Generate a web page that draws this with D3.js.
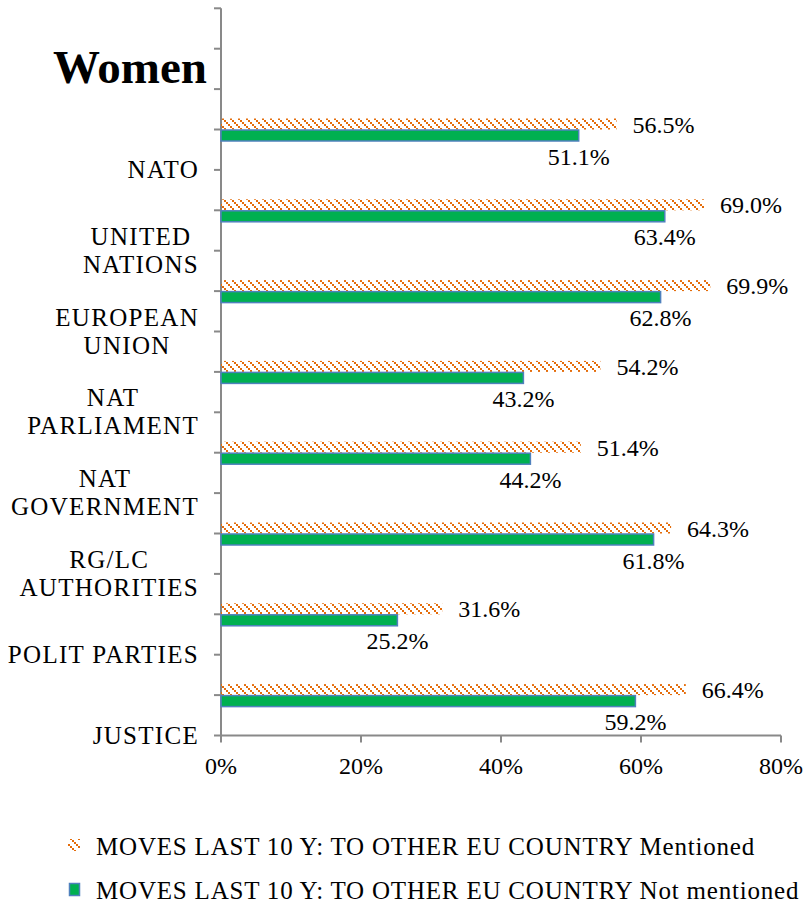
<!DOCTYPE html>
<html>
<head>
<meta charset="utf-8">
<script src="https://cdn.jsdelivr.net/npm/d3@7"></script>
<style>
    body { margin: 0; background: #fff; }
    text { font-family: "Liberation Serif", "DejaVu Serif", serif; fill: #000; }
</style>
</head>
<body>
<svg id="chart" width="807" height="912"></svg>
<script>
// categories, top to bottom
const categories = [
    ["NATO"],
    ["UNITED", "NATIONS"],
    ["EUROPEAN", "UNION"],
    ["NAT", "PARLIAMENT"],
    ["NAT", "GOVERNMENT"],
    ["RG/LC", "AUTHORITIES"],
    ["POLIT PARTIES"],
    ["JUSTICE"]
];
const mentioned = [56.5, 69.0, 69.9, 54.2, 51.4, 64.3, 31.6, 66.4];
const notMentioned = [51.1, 63.4, 62.8, 43.2, 44.2, 61.8, 25.2, 59.2];
const xTicks = [0, 20, 40, 60, 80];
const seriesNames = [
    "MOVES LAST 10 Y: TO OTHER EU COUNTRY Mentioned",
    "MOVES LAST 10 Y: TO OTHER EU COUNTRY Not mentioned"
];

const orange = "#e46c0a",
    green = "#00b050",
    blue = "#4f81bd",
    axisGrey = "#898989";

const svg = d3.select("#chart");

// hatch pattern for the "Mentioned" series
const defs = svg.append("defs");
const pat = defs
    .append("pattern")
    .attr("id", "hatch")
    .attr("patternUnits", "userSpaceOnUse")
    .attr("width", 8)
    .attr("height", 8);
[0, 2, 4, 6].forEach(o => {
    pat.append("rect").attr("x", o).attr("y", o).attr("width", 2).attr("height", 2).attr("fill", orange);
});

// 18 slots on the category axis, bars sit on odd ticks, labels on even ones
const y = d3.scaleLinear().domain([0, 18]).range([8.3, 735.5]);
const x = d3.scaleLinear().domain([0, 80]).range([221, 781]);

const barTick = i => y(3 + 2 * i);
const labelTick = i => y(4 + 2 * i);

// axes
svg.append("line")
    .attr("x1", x(0)).attr("x2", x(0))
    .attr("y1", y(0)).attr("y2", y(18))
    .attr("stroke", axisGrey).attr("stroke-width", 2);
svg.append("g")
    .selectAll("line")
    .data(d3.range(19))
    .join("line")
    .attr("x1", x(0) - 7).attr("x2", x(0))
    .attr("y1", d => y(d)).attr("y2", d => y(d))
    .attr("stroke", axisGrey).attr("stroke-width", 2);

svg.append("line")
    .attr("x1", x(0)).attr("x2", x(80))
    .attr("y1", y(18)).attr("y2", y(18))
    .attr("stroke", axisGrey).attr("stroke-width", 2);
svg.append("g")
    .selectAll("line")
    .data(xTicks)
    .join("line")
    .attr("x1", d => x(d)).attr("x2", d => x(d))
    .attr("y1", y(18)).attr("y2", y(18) + 7)
    .attr("stroke", axisGrey).attr("stroke-width", 2);
svg.append("g")
    .selectAll("text")
    .data(xTicks)
    .join("text")
    .attr("x", d => x(d))
    .attr("y", 774)
    .attr("text-anchor", "middle")
    .attr("font-size", "24px")
    .text(d => `${d}%`);

// bars
const gBars = svg.append("g");
gBars.selectAll("rect.m")
    .data(mentioned)
    .join("rect")
    .attr("class", "m")
    .attr("x", x(0))
    .attr("y", (d, i) => barTick(i) - 11)
    .attr("width", d => x(d) - x(0))
    .attr("height", 11)
    .attr("fill", "url(#hatch)");
gBars.selectAll("rect.n")
    .data(notMentioned)
    .join("rect")
    .attr("class", "n")
    .attr("x", x(0))
    .attr("y", (d, i) => barTick(i) + 0.5)
    .attr("width", d => x(d) - x(0))
    .attr("height", 11)
    .attr("fill", green)
    .attr("stroke", blue)
    .attr("stroke-width", 1.5);

// value labels
svg.append("g")
    .selectAll("text")
    .data(mentioned)
    .join("text")
    .attr("x", d => x(d) + 16)
    .attr("y", (d, i) => barTick(i) + 3)
    .attr("font-size", "24px")
    .text(d => `${d.toFixed(1)}%`);
svg.append("g")
    .selectAll("text")
    .data(notMentioned)
    .join("text")
    .attr("x", d => x(d))
    .attr("y", (d, i) => barTick(i) + 35)
    .attr("text-anchor", "middle")
    .attr("font-size", "24px")
    .text(d => `${d.toFixed(1)}%`);

// category labels: block right aligned, lines centred inside it
const labelRight = 199;
categories.forEach((lines, i) => {
    const g = svg.append("g");
    const texts = lines.map(l =>
        g.append("text").attr("font-size", "25px").attr("letter-spacing", "1.3px").text(l)
    );
    const w = d3.max(texts, t => t.node().getComputedTextLength());
    const cx = labelRight - w / 2;
    const lineH = 28;
    const y0 = labelTick(i) - ((lines.length - 1) * lineH) / 2 + 8;
    texts.forEach((t, j) => {
        t.attr("x", cx).attr("y", y0 + j * lineH).attr("text-anchor", "middle");
    });
});

// title
svg.append("text")
    .attr("x", 207)
    .attr("y", 83)
    .attr("text-anchor", "end")
    .attr("font-size", "47px")
    .attr("font-weight", "bold")
    .text("Women");

// legend
const legend = svg.append("g");
legend.append("rect")
    .attr("x", 68).attr("y", 839).attr("width", 12).attr("height", 12)
    .attr("fill", "url(#hatch)");
legend.append("rect")
    .attr("x", 69.5).attr("y", 883.5).attr("width", 10).attr("height", 12)
    .attr("fill", green).attr("stroke", blue).attr("stroke-width", 1.5);
legend.selectAll("text")
    .data(seriesNames)
    .join("text")
    .attr("x", 96)
    .attr("y", (d, i) => 855 + i * 44)
    .attr("font-size", "25px")
    .attr("letter-spacing", "0.8px")
    .text(d => d);
</script>
</body>
</html>
